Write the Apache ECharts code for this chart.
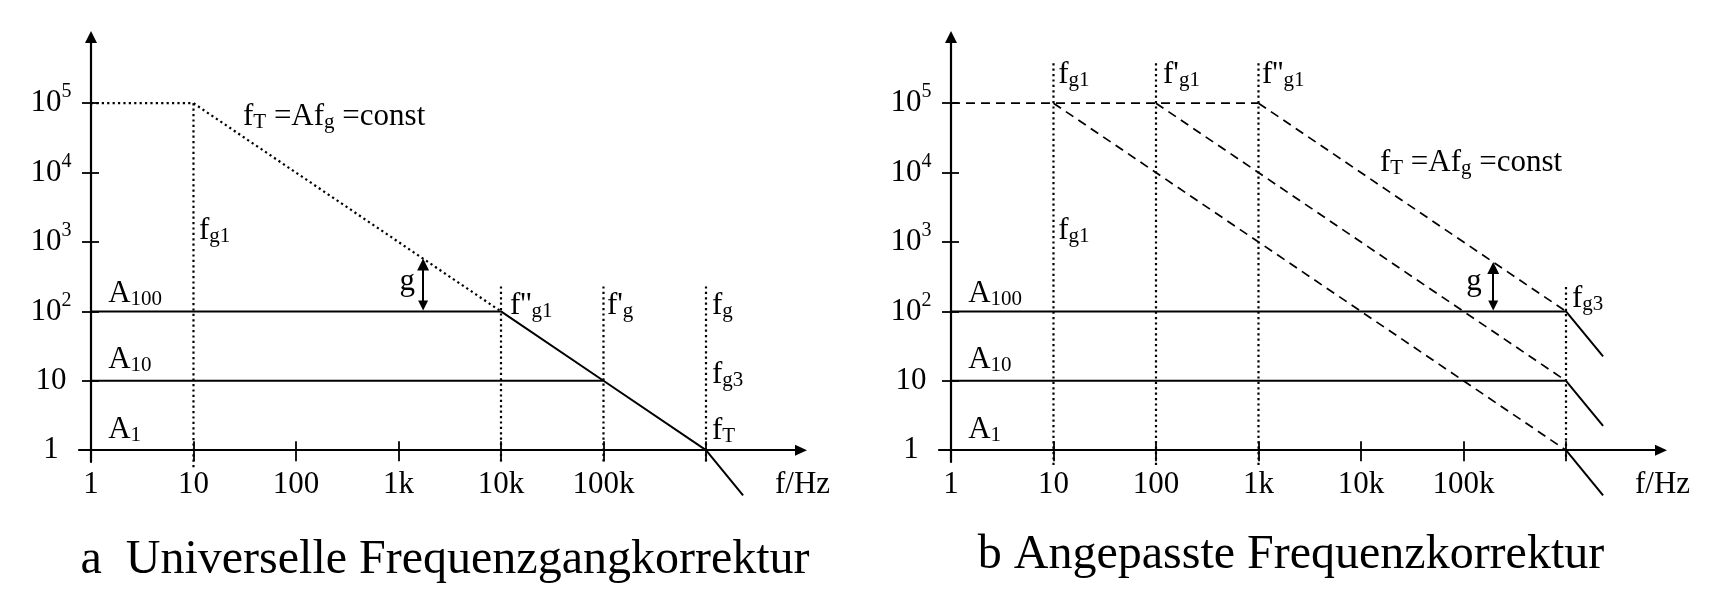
<!DOCTYPE html>
<html><head><meta charset="utf-8">
<script src="https://cdn.jsdelivr.net/npm/echarts@6/dist/echarts.min.js"></script>
<style>html,body{margin:0;padding:0;background:#fff}#c{width:1720px;height:612px}</style>
</head><body><div id="c"></div>
<script>
// ================= DATA =================
// axis ticks (frequency in Hz, gain as ratio)
const freqTicks = [1, 10, 100, 1e3, 1e4, 1e5, 1e6];
const freqTickLabels = ['1', '10', '100', '1k', '10k', '100k', ''];
const gainTicks = [1, 10, 100, 1e3, 1e4, 1e5];
const gainTickBase = ['1', '10', '10', '10', '10', '10'];
const gainTickExp = ['', '', '2', '3', '4', '5'];
const freqRange = [0.764, 8.45e6];   // extent of frequency axis (arrow end)
const gainRange = [0.676, 8.99e5];   // extent of gain axis (arrow end)

// --- panel a: Universelle Frequenzgangkorrektur ---
const aOpenLoop  = [[1, 1e5], [10, 1e5], [1e4, 100]];                      // dotted, fT = A*fg
const aClosed100 = [[1, 100], [1e4, 100], [1e5, 10], [1e6, 1], [2.3e6, 0.224]];
const aClosed10  = [[1, 10], [1e5, 10]];
const aMarkers   = [[10, 1e5, 0.57], [1e4, 229, 0.68], [1e5, 229, 0.68], [1e6, 229, 0.68]]; // f, top, bottom
const aGapArrow  = [1740, 122, 472];                                        // f, from, to
const aNotes = [
  ['f_{T} =Af_{g} =const', 30.4, 6.4e4, 'right'],
  ['f_{g1}', 11.3, 1456, 'right'],
  ['g', 1445, 268, 'left'],
  ['A_{100}', 1.47, 180, 'right'],
  ['A_{10}', 1.47, 20.1, 'right'],
  ['A_{1}', 1.47, 1.97, 'right'],
  ["f''_{g1}", 12250, 121, 'right'],
  ["f'_{g}", 108000, 121, 'right'],
  ['f_{g}', 1.145e6, 121, 'right'],
  ['f_{g3}', 1.145e6, 12.2, 'right'],
  ['f_{T}', 1.145e6, 1.91, 'right']
];

// --- panel b: Angepasste Frequenzkorrektur ---
const bOpenLoopTop = [[1, 1e5], [1e3, 1e5]];
const bOpenLoop1 = [[10, 1e5], [1e6, 1]];
const bOpenLoop2 = [[100, 1e5], [1e6, 10]];
const bOpenLoop3 = [[1e3, 1e5], [1e6, 100]];
const bClosed100 = [[1, 100], [1e6, 100], [2.3e6, 22.4]];
const bClosed10  = [[1, 10], [1e6, 10], [2.3e6, 2.24]];
const bClosed1   = [[1e6, 1], [2.3e6, 0.224]];
const bMarkers   = [[10, 3.77e5, 0.61], [100, 3.77e5, 0.61], [1e3, 3.77e5, 0.61], [1e6, 224, 0.77]];
const bGapArrow  = [195000, 122, 421];
const bNotes = [
  ['f_{g1}', 11.1, 2.57e5, 'right'],
  ["f'_{g1}", 117, 2.57e5, 'right'],
  ["f''_{g1}", 1081, 2.57e5, 'right'],
  ['f_{g1}', 11.1, 1456, 'right'],
  ['f_{T} =Af_{g} =const', 15300, 13900, 'right'],
  ['g', 151000, 268, 'left'],
  ['f_{g3}', 1.145e6, 152, 'right'],
  ['A_{100}', 1.47, 180, 'right'],
  ['A_{10}', 1.47, 20.1, 'right'],
  ['A_{1}', 1.47, 1.97, 'right']
];

const titles = ['a  Universelle Frequenzgangkorrektur', 'b Angepasste Frequenzkorrektur'];

// ================= STYLE / BUILD =================
const FONT = '"Liberation Serif", "Times New Roman", "DejaVu Serif", serif';
const INK = '#000';
const L = Math.log10;
const SOLID = {width: 2, type: 'solid'};
const DOT = {width: 2.2, type: [2.2, 3.2]};
const DASH = {width: 1.7, type: [9, 6]};

const RICH = {
  m: {fontFamily: FONT, fontSize: 31, lineHeight: 32, color: INK, opacity: 1, verticalAlign: 'middle'},
  s: {fontFamily: FONT, fontSize: 21, lineHeight: 20, color: INK, opacity: 1, verticalAlign: 'bottom'}
};
function toRich(str) {
  let out = '', i = 0, buf = '';
  while (i < str.length) {
    if (str[i] === '_' && str[i + 1] === '{') {
      if (buf) { out += '{m|' + buf + '}'; buf = ''; }
      const j = str.indexOf('}', i);
      out += '{s|' + str.slice(i + 2, j) + '}';
      i = j + 1;
    } else { buf += str[i]; i++; }
  }
  if (buf) out += '{m|' + buf + '}';
  return out;
}
function idxOf(list, v) { return list.findIndex(t => Math.abs(L(t) - v) < 1e-6); }

function lineSeries(gi, pts, style) {
  return {
    type: 'line', xAxisIndex: gi * 2, yAxisIndex: gi * 2,
    data: pts.map(([f, a]) => [L(f), L(a)]),
    symbol: 'none', showSymbol: false, clip: false, silent: true, z: 3,
    lineStyle: Object.assign({color: INK, cap: 'butt', opacity: 1}, style)
  };
}
function markerSeries(gi, markers) {
  return markers.map(([f, top, bot]) => lineSeries(gi, [[f, top], [f, bot]], DOT));
}
function arrowSeries(gi, arr) {
  const [f, a1, a2] = arr;
  return {
    type: 'lines', coordinateSystem: 'cartesian2d', xAxisIndex: gi * 2, yAxisIndex: gi * 2,
    symbol: ['triangle', 'triangle'], symbolSize: [10, 12], silent: true, z: 4,
    lineStyle: {color: INK, width: 2, opacity: 1},
    itemStyle: {color: INK, opacity: 1},
    data: [{coords: [[L(f), L(a1)], [L(f), L(a2)]]}]
  };
}
function noteSeries(gi, notes) {
  return {
    type: 'scatter', xAxisIndex: gi * 2, yAxisIndex: gi * 2, symbolSize: 0, silent: true, z: 5,
    itemStyle: {opacity: 1, color: INK},
    label: {show: true, rich: RICH, color: INK, opacity: 1},
    data: notes.map(([txt, f, a, side]) => ({
      value: [L(f), L(a)],
      label: {show: true, position: side, distance: 0, formatter: toRich(txt), rich: RICH, color: INK, opacity: 1}
    }))
  };
}

function axesFor(gi) {
  const fx = freqTicks.map(L), gy = gainTicks.map(L);
  const xr = freqRange.map(L), yr = gainRange.map(L);
  const xMain = {
    type: 'value', gridIndex: gi, min: xr[0], max: xr[1], position: 'bottom',
    axisLine: {show: true, onZero: true, symbol: ['none', 'triangle'], symbolSize: [11, 12],
      lineStyle: {color: INK, width: 2.2}},
    axisTick: {show: true, inside: false, length: 11, customValues: fx, lineStyle: {color: INK, width: 1.8}},
    axisLabel: {show: true, customValues: fx, margin: 7.5, color: INK, fontFamily: FONT, fontSize: 31,
      formatter: v => { const i = idxOf(freqTicks, v); return i >= 0 ? freqTickLabels[i] : ''; }},
    splitLine: {show: false},
    name: 'f/Hz', nameLocation: 'end', nameGap: -26,
    nameTextStyle: {fontFamily: FONT, fontSize: 31, color: INK, align: 'left', verticalAlign: 'top', padding: [19, 0, 0, 0]}
  };
  const xTwin = {
    type: 'value', gridIndex: gi, min: xr[0], max: xr[1], position: 'bottom',
    axisLine: {show: false, onZero: true},
    axisTick: {show: true, inside: true, length: 9, customValues: fx, lineStyle: {color: INK, width: 1.8}},
    axisLabel: {show: false}, splitLine: {show: false}
  };
  const yMain = {
    type: 'value', gridIndex: gi, min: yr[0], max: yr[1], position: 'left',
    axisLine: {show: true, onZero: true, symbol: ['none', 'triangle'], symbolSize: [12, 12],
      lineStyle: {color: INK, width: 2.2}},
    axisTick: {show: true, inside: false, length: 9, customValues: gy, lineStyle: {color: INK, width: 1.8}},
    axisLabel: {show: true, customValues: gy, margin: 28, align: 'center',
      formatter: v => {
        const i = idxOf(gainTicks, v);
        if (i < 0) return '';
        return '{n|' + gainTickBase[i] + '}' + (gainTickExp[i] ? '{e|' + gainTickExp[i] + '}' : '');
      },
      rich: {
        n: {fontFamily: FONT, fontSize: 31, lineHeight: 42, color: INK, verticalAlign: 'middle'},
        e: {fontFamily: FONT, fontSize: 20, lineHeight: 20, color: INK, verticalAlign: 'top'}
      }},
    splitLine: {show: false}
  };
  const yTwin = {
    type: 'value', gridIndex: gi, min: yr[0], max: yr[1], position: 'left',
    axisLine: {show: false, onZero: true},
    axisTick: {show: true, inside: true, length: 8, customValues: gy, lineStyle: {color: INK, width: 1.8}},
    axisLabel: {show: false}, splitLine: {show: false}
  };
  return {x: [xMain, xTwin], y: [yMain, yTwin]};
}

const A0 = axesFor(0), A1 = axesFor(1);

const series = [].concat(
  [lineSeries(0, aOpenLoop, DOT), lineSeries(0, aClosed100, SOLID), lineSeries(0, aClosed10, SOLID)],
  markerSeries(0, aMarkers),
  [arrowSeries(0, aGapArrow), noteSeries(0, aNotes)],
  [lineSeries(1, bOpenLoopTop, DASH), lineSeries(1, bOpenLoop1, DASH), lineSeries(1, bOpenLoop2, DASH),
   lineSeries(1, bOpenLoop3, DASH), lineSeries(1, bClosed100, SOLID), lineSeries(1, bClosed10, SOLID),
   lineSeries(1, bClosed1, SOLID)],
  markerSeries(1, bMarkers),
  [arrowSeries(1, bGapArrow), noteSeries(1, bNotes)]
);

const chart = echarts.init(document.getElementById('c'), null, {renderer: 'canvas'});
chart.setOption({
  animation: false,
  backgroundColor: '#fff',
  textStyle: {fontFamily: FONT},
  title: [
    {text: titles[0], left: 445, top: 536, textAlign: 'center', padding: 0,
     textStyle: {fontFamily: FONT, fontSize: 48, fontWeight: 'normal', color: INK}},
    {text: titles[1], left: 1291, top: 531, textAlign: 'center', padding: 0,
     textStyle: {fontFamily: FONT, fontSize: 48, fontWeight: 'normal', color: INK}}
  ],
  grid: [
    {left: 79, top: 37, width: 722, height: 425, containLabel: false, outerBoundsMode: 'none'},
    {left: 939, top: 37, width: 722, height: 425, containLabel: false, outerBoundsMode: 'none'}
  ],
  xAxis: [A0.x[0], A0.x[1], A1.x[0], A1.x[1]].map((a, k) => Object.assign(a, {gridIndex: k < 2 ? 0 : 1})),
  yAxis: [A0.y[0], A0.y[1], A1.y[0], A1.y[1]].map((a, k) => Object.assign(a, {gridIndex: k < 2 ? 0 : 1})),
  series: series
});
</script>
</body></html>
